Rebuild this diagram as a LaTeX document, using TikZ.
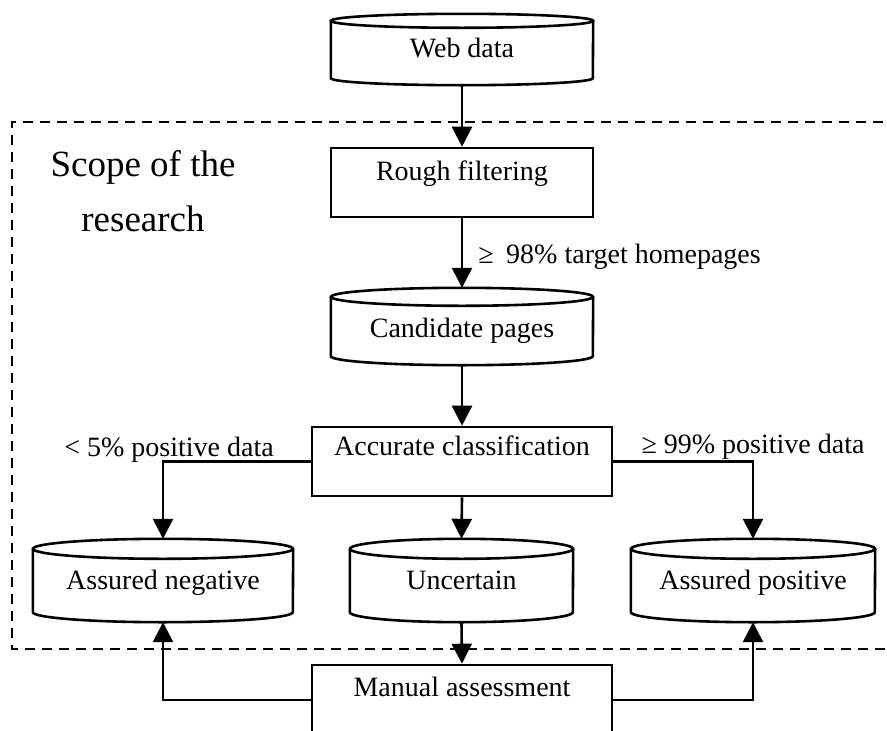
\documentclass[tikz,border=0pt]{standalone}
\usepackage{fontspec}
\setmainfont{Liberation Serif}
\usetikzlibrary{arrows.meta}

\begin{document}
\begin{tikzpicture}[x=1pt,y=-1pt,
  ln/.style={line width=2.6pt},
  arr/.style={ln,-{Triangle[length=20pt,width=20pt]}},
  txt/.style={font=\fontsize{28}{34}\selectfont},
  box/.style={ln,draw,rectangle,inner sep=0pt,txt},
  db/.style={rectangle,inner sep=0pt,txt},
  tb/.style 2 args={text height=#1pt,text depth=#2pt},
  lbl/.style={txt,inner sep=0pt}
]
\useasboundingbox (0,0) rectangle (887,731);
\clip (0,0) rectangle (887,731);

% scope frame (runs off to the right)
\draw[ln,dash pattern=on 10pt off 7pt] (900,122) -- (12,122) -- (12,649) -- (900,649);
\node[font=\fontsize{37}{55}\selectfont,align=center,inner sep=0pt] (scope) at (143,191) {Scope of the\\research};

% stages
\node[db,minimum width=262pt,minimum height=71pt,tb={19.5}{4.5}] (web) at (462,49.5) {Web data};
\node[box,minimum width=262pt,minimum height=69pt,tb={9.5}{14.5}] (rough) at (462,182.5) {Rough filtering};
\node[db,minimum width=262pt,minimum height=77pt,tb={22.5}{1.5}] (cand) at (462,326.5) {Candidate pages};
\node[box,minimum width=300pt,minimum height=69pt,tb={5.5}{18.5}] (acc) at (462,461.5) {Accurate classification};
\node[db,minimum width=260pt,minimum height=83pt,tb={20.5}{3.5}] (neg) at (163,580.5) {Assured negative};
\node[db,minimum width=223pt,minimum height=83pt,tb={20.5}{3.5}] (unc) at (461.5,580.5) {Uncertain};
\node[db,minimum width=244pt,minimum height=83pt,tb={20.5}{3.5}] (pos) at (753,580.5) {Assured positive};
\node[box,minimum width=300pt,minimum height=70pt,tb={8}{16}] (man) at (462,700) {Manual assessment};

% cylinder outlines for the data stores
\foreach \n/\r/\w in {web/7/131, cand/9/131, neg/10/130, unc/10/111.5, pos/10/122}{
  \draw[ln] ([yshift={-\r*1pt}]\n.north) ellipse[x radius=\w, y radius=\r];
  \draw[ln] ([yshift={-\r*1pt}]\n.north west) -- ([yshift={\r*1pt}]\n.south west)
    arc[start angle=180, end angle=0, x radius=\w, y radius=\r]
    -- ([yshift={-\r*1pt}]\n.north east);
}

% connectors
\draw[arr] (web.south) -- (rough.north);
\draw[arr] (rough.south) -- node[lbl,pos=0.648,anchor=base west,xshift=15pt] {≥\hspace{0.45em}98\% target homepages} (cand.north);
\draw[arr] (cand.south) -- (acc.north);
\draw[arr] (acc.west) -| node[lbl,pos=0.5,anchor=base,xshift=6pt,yshift=5pt] {<\ 5\% positive data} (neg.north);
\draw[arr] (acc.east) -| node[lbl,pos=0.5,anchor=base,yshift=8pt] {≥ 99\% positive data} (pos.north);
\draw[arr] (acc.south) -- (unc.north);
\draw[arr] (unc.south) -- (man.north);
\draw[arr] (man.west) -| (neg.south);
\draw[arr] (man.east) -| (pos.south);
\end{tikzpicture}
\end{document}
